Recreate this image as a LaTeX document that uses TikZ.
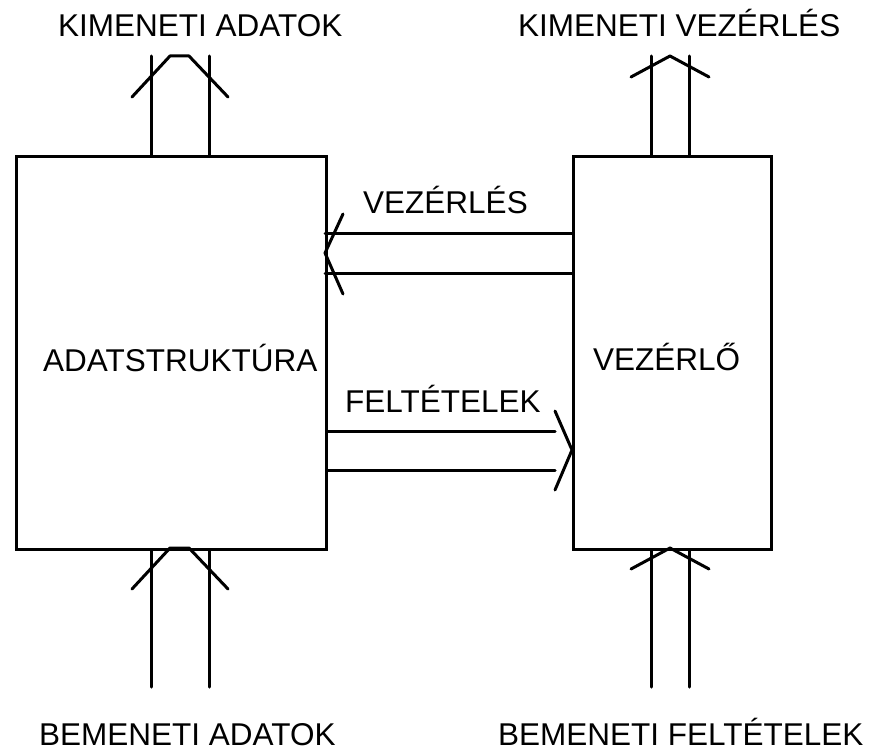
\documentclass[tikz,border=0pt]{standalone}
\usepackage{fontspec}
\setmainfont{Liberation Sans}
\begin{document}
\begin{tikzpicture}[x=1pt,y=-1pt,
  ln/.style={line width=3pt,line cap=round,line join=round},
  box/.style={draw,line width=3pt,inner sep=0pt,anchor=north west},
  lbl/.style={inner sep=0pt,anchor=base west,font=\fontsize{31.5}{36}\selectfont}]
\useasboundingbox (0,0) rectangle (874,751);
% boxes
\node[box,minimum width=310pt,minimum height=393pt] (ds) at (15,155) {};
\node[box,minimum width=198pt,minimum height=393pt] (vz) at (572,155) {};
% labels
\node[lbl] (t1) at (58,37) {KIMENETI ADATOK};
\node[lbl] (t2) at (518,37) {KIMENETI VEZÉRLÉS};
\node[lbl] (t3) at (43,371) {ADATSTRUKTÚRA};
\node[lbl] (t4) at (593,370) {VEZÉRLŐ};
\node[lbl] (t5) at (39,745) {BEMENETI ADATOK};
\node[lbl] (t6) at (498,745) {BEMENETI FELTÉTELEK};
\node[lbl] (t7) at (363,214) {VEZÉRLÉS};
\node[lbl] (t8) at (345,412) {FELTÉTELEK};
% top left output
\coordinate (a1) at (151,56); \coordinate (a2) at (209,56);
\draw[ln] (a1) -- (a1 |- ds.north);
\draw[ln] (a2) -- (a2 |- ds.north);
\draw[ln] (132,97) -- (170,56) -- (189,56) -- (228,97);
% top right output
\coordinate (b1) at (651,56); \coordinate (b2) at (689,56);
\draw[ln] (b1) -- (b1 |- vz.north);
\draw[ln] (b2) -- (b2 |- vz.north);
\draw[ln] (631,77) -- (670,56) -- (709,77);
% bottom left input
\coordinate (c1) at (151,687); \coordinate (c2) at (209,687);
\draw[ln] (c1) -- (c1 |- ds.south);
\draw[ln] (c2) -- (c2 |- ds.south);
\draw[ln] (132,589) -- (170,548) -- (189,548) -- (228,589);
% bottom right input
\coordinate (d1) at (651,687); \coordinate (d2) at (689,687);
\draw[ln] (d1) -- (d1 |- vz.south);
\draw[ln] (d2) -- (d2 |- vz.south);
\draw[ln] (631,569) -- (670,548) -- (709,569);
% VEZERLES: from vz to ds
\coordinate (e1) at (325,233); \coordinate (e2) at (325,273);
\draw[ln] (vz.west |- e1) -- (e1);
\draw[ln] (vz.west |- e2) -- (e2);
\draw[ln] (343,214) -- (325,253) -- (343,294);
% FELTETELEK: from ds to vz
\coordinate (f1) at (555,431); \coordinate (f2) at (555,470);
\draw[ln] (ds.east |- f1) -- (f1);
\draw[ln] (ds.east |- f2) -- (f2);
\draw[ln] (555,411) -- (572,450) -- (555,490);
\end{tikzpicture}
\end{document}
